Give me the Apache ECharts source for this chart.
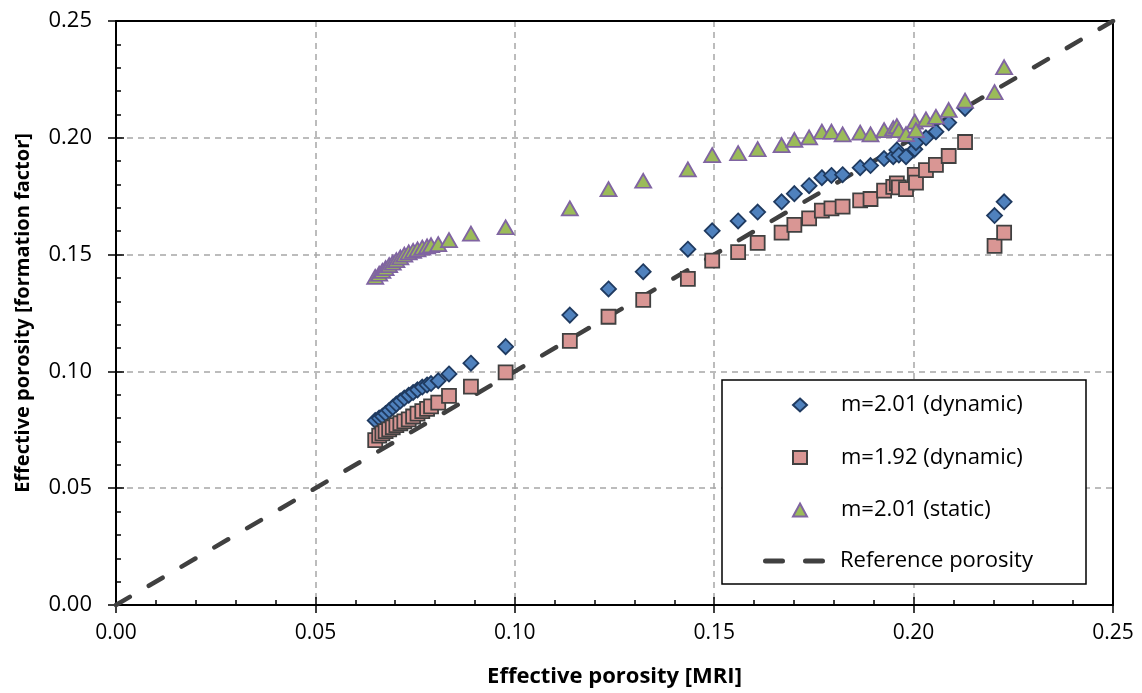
<!DOCTYPE html>
<html>
<head>
<meta charset="utf-8">
<script src="https://cdn.jsdelivr.net/npm/echarts@6/dist/echarts.min.js"></script>
<style>
  html, body { margin: 0; padding: 0; background: #fff; }
  #chart { width: 1142px; height: 693px; }
</style>
</head>
<body>
<div id="chart"></div>
<script>
// Effective porosity from MRI (shared by all three formation-factor series)
const mriPorosity = [
  0.0650, 0.0660, 0.0668, 0.0676, 0.0685, 0.0694, 0.0703, 0.0713, 0.0723, 0.0734,
  0.0745, 0.0756, 0.0768, 0.0780, 0.0790, 0.0808, 0.0835, 0.0890, 0.0977, 0.1138,
  0.1235, 0.1322, 0.1434, 0.1495, 0.1560, 0.1609, 0.1669, 0.1701, 0.1738, 0.1770,
  0.1794, 0.1822, 0.1866, 0.1892, 0.1926, 0.1949, 0.1958, 0.1963, 0.1981, 0.2003,
  0.2006, 0.2031, 0.2056, 0.2088, 0.2129, 0.2203, 0.2227
];
// Formation-factor porosity, m = 2.01, dynamic
const ffDynamic201 = [
  0.0790, 0.0800, 0.0808, 0.0820, 0.0833, 0.0846, 0.0860, 0.0873, 0.0886, 0.0898,
  0.0910, 0.0921, 0.0933, 0.0942, 0.0948, 0.0960, 0.0989, 0.1035, 0.1106, 0.1241,
  0.1353, 0.1427, 0.1523, 0.1602, 0.1644, 0.1682, 0.1726, 0.1761, 0.1795, 0.1829,
  0.1839, 0.1842, 0.1872, 0.1881, 0.1911, 0.1919, 0.1948, 0.1926, 0.1919, 0.1951,
  0.1979, 0.2000, 0.2026, 0.2065, 0.2126, 0.1667, 0.1726
];
// Formation-factor porosity, m = 1.92, dynamic
const ffDynamic192 = [
  0.0706, 0.0725, 0.0735, 0.0744, 0.0752, 0.0761, 0.0770, 0.0778, 0.0786, 0.0795,
  0.0807, 0.0819, 0.0830, 0.0840, 0.0850, 0.0866, 0.0895, 0.0935, 0.0996, 0.1131,
  0.1234, 0.1306, 0.1396, 0.1474, 0.1511, 0.1550, 0.1594, 0.1627, 0.1655, 0.1688,
  0.1698, 0.1705, 0.1732, 0.1738, 0.1774, 0.1790, 0.1805, 0.1788, 0.1780, 0.1841,
  0.1808, 0.1862, 0.1884, 0.1922, 0.1982, 0.1537, 0.1594
];
// Formation-factor porosity, m = 2.01, static
const ffStatic201 = [
  0.1405, 0.1418, 0.1430, 0.1442, 0.1455, 0.1466, 0.1476, 0.1488, 0.1500, 0.1509,
  0.1516, 0.1522, 0.1530, 0.1535, 0.1540, 0.1545, 0.1562, 0.1590, 0.1617, 0.1698,
  0.1780, 0.1816, 0.1865, 0.1926, 0.1934, 0.1951, 0.1969, 0.1991, 0.2002, 0.2026,
  0.2026, 0.2015, 0.2022, 0.2015, 0.2033, 0.2041, 0.2050, 0.2033, 0.2016, 0.2069,
  0.2033, 0.2079, 0.2090, 0.2119, 0.2159, 0.2195, 0.2302
];
// 1:1 reference line end points
const referenceLine = [0, 0.25];

const seriesNames = ['m=2.01 (dynamic)', 'm=1.92 (dynamic)', 'm=2.01 (static)', 'Reference porosity'];
const axisTitleX = 'Effective porosity [MRI]';
const axisTitleY = 'Effective porosity [formation factor]';

const pairs = ys => mriPorosity.map((x, i) => [x, ys[i]]);

const FONT = "'Open Sans', 'DejaVu Sans', sans-serif";
const tickFmt = v => v.toFixed(2);

const mainAxisBase = {
  type: 'value', min: 0, max: 0.25, interval: 0.05,
  axisLine: { show: true, onZero: false, lineStyle: { color: '#000', width: 2 } },
  axisTick: { show: true, inside: true, length: 8, lineStyle: { color: '#000', width: 1.5 } },
  minorTick: { show: true, splitNumber: 5, length: 5, lineStyle: { color: '#000', width: 1.5 } },
  splitLine: { show: true, lineStyle: { color: '#A6A6A6', width: 1.5, type: [6, 5] } },
  axisLabel: { formatter: tickFmt, color: '#000', fontFamily: FONT, fontSize: 21 },
  nameLocation: 'middle',
  nameTextStyle: { color: '#000', fontFamily: FONT, fontWeight: 'bold' }
};
// companion axes: outward half of each major tick
const outerAxisBase = {
  type: 'value', min: 0, max: 0.25, interval: 0.05,
  axisLine: { show: false },
  axisTick: { show: true, inside: false, length: 8, lineStyle: { color: '#000', width: 1.5 } },
  splitLine: { show: false },
  axisLabel: { show: false }
};
// frame axes: top and right edges of the plot box
const frameAxisBase = {
  type: 'value', min: 0, max: 0.25, interval: 0.05,
  axisLine: { show: true, onZero: false, lineStyle: { color: '#000', width: 2 } },
  axisTick: { show: false },
  splitLine: { show: false },
  axisLabel: { show: false }
};

const legendText = { color: '#000', fontFamily: FONT, fontSize: 22, lineHeight: 26 };
// two dashes with round ends, used as the reference-line legend key
const dashIcon = 'path://M2.5,0 H19.5 A2.5,2.5 0 0 1 19.5,5 H2.5 A2.5,2.5 0 0 1 2.5,0 Z ' +
                 'M42.5,0 H59.5 A2.5,2.5 0 0 1 59.5,5 H42.5 A2.5,2.5 0 0 1 42.5,0 Z';

const chart = echarts.init(document.getElementById('chart'), null, { renderer: 'canvas' });
chart.setOption({
  animation: false,
  backgroundColor: '#fff',
  grid: { left: 116, right: 29, top: 21, bottom: 88, show: false },
  xAxis: [
    Object.assign({}, mainAxisBase, {
      position: 'bottom', name: axisTitleX, nameGap: 61,
      nameTextStyle: Object.assign({}, mainAxisBase.nameTextStyle, { fontSize: 22 }),
      axisLabel: Object.assign({}, mainAxisBase.axisLabel, { margin: 18 })
    }),
    Object.assign({}, outerAxisBase, { position: 'bottom' }),
    Object.assign({}, frameAxisBase, { position: 'top' })
  ],
  yAxis: [
    Object.assign({}, mainAxisBase, {
      position: 'left', name: axisTitleY, nameGap: 83,
      nameTextStyle: Object.assign({}, mainAxisBase.nameTextStyle, { fontSize: 20 }),
      axisLabel: Object.assign({}, mainAxisBase.axisLabel, { margin: 24, fontSize: 22 })
    }),
    Object.assign({}, outerAxisBase, { position: 'left' }),
    Object.assign({}, frameAxisBase, { position: 'right' })
  ],
  legend: [
    {
      orient: 'vertical',
      left: 792, top: 392, z: 10,
      itemWidth: 14, itemHeight: 13,
      itemGap: 26.5,
      padding: 0,
      data: seriesNames.slice(0, 3),
      textStyle: Object.assign({}, legendText, { padding: [0, 0, 0, 29] })
    },
    {
      orient: 'vertical',
      left: 763, top: 548, z: 10,
      itemWidth: 62, itemHeight: 5,
      padding: 0,
      data: [{ name: seriesNames[3], icon: dashIcon }],
      itemStyle: { color: '#404040', borderWidth: 0 },
      textStyle: Object.assign({}, legendText, { padding: [0, 0, 0, 10] })
    }
  ],
  graphic: [{
    type: 'rect', z: 1, silent: true,
    shape: { x: 722, y: 380, width: 364, height: 204 },
    style: { fill: '#fff', stroke: '#000', lineWidth: 1.5 }
  }],
  series: [
    {
      name: seriesNames[3], type: 'line', z: 1,
      data: [[referenceLine[0], referenceLine[0]], [referenceLine[1], referenceLine[1]]],
      symbol: 'none',
      lineStyle: { color: '#404040', width: 4.5, type: [16, 22], cap: 'round' },
      itemStyle: { color: '#404040' }
    },
    {
      name: seriesNames[0], type: 'scatter', z: 2,
      data: pairs(ffDynamic201),
      symbol: 'diamond', symbolSize: 15,
      itemStyle: { color: '#4F81BD', borderColor: '#1F3A60', borderWidth: 1.8, opacity: 1 }
    },
    {
      name: seriesNames[1], type: 'scatter', z: 3,
      data: pairs(ffDynamic192),
      symbol: 'rect', symbolSize: 14,
      itemStyle: { color: '#D99694', borderColor: '#404040', borderWidth: 1.8, opacity: 1 }
    },
    {
      name: seriesNames[2], type: 'scatter', z: 4,
      data: pairs(ffStatic201),
      symbol: 'triangle', symbolSize: [16, 14],
      itemStyle: { color: '#9BBB59', borderColor: '#8064A2', borderWidth: 1.8, opacity: 1 }
    }
  ]
});
</script>
</body>
</html>
